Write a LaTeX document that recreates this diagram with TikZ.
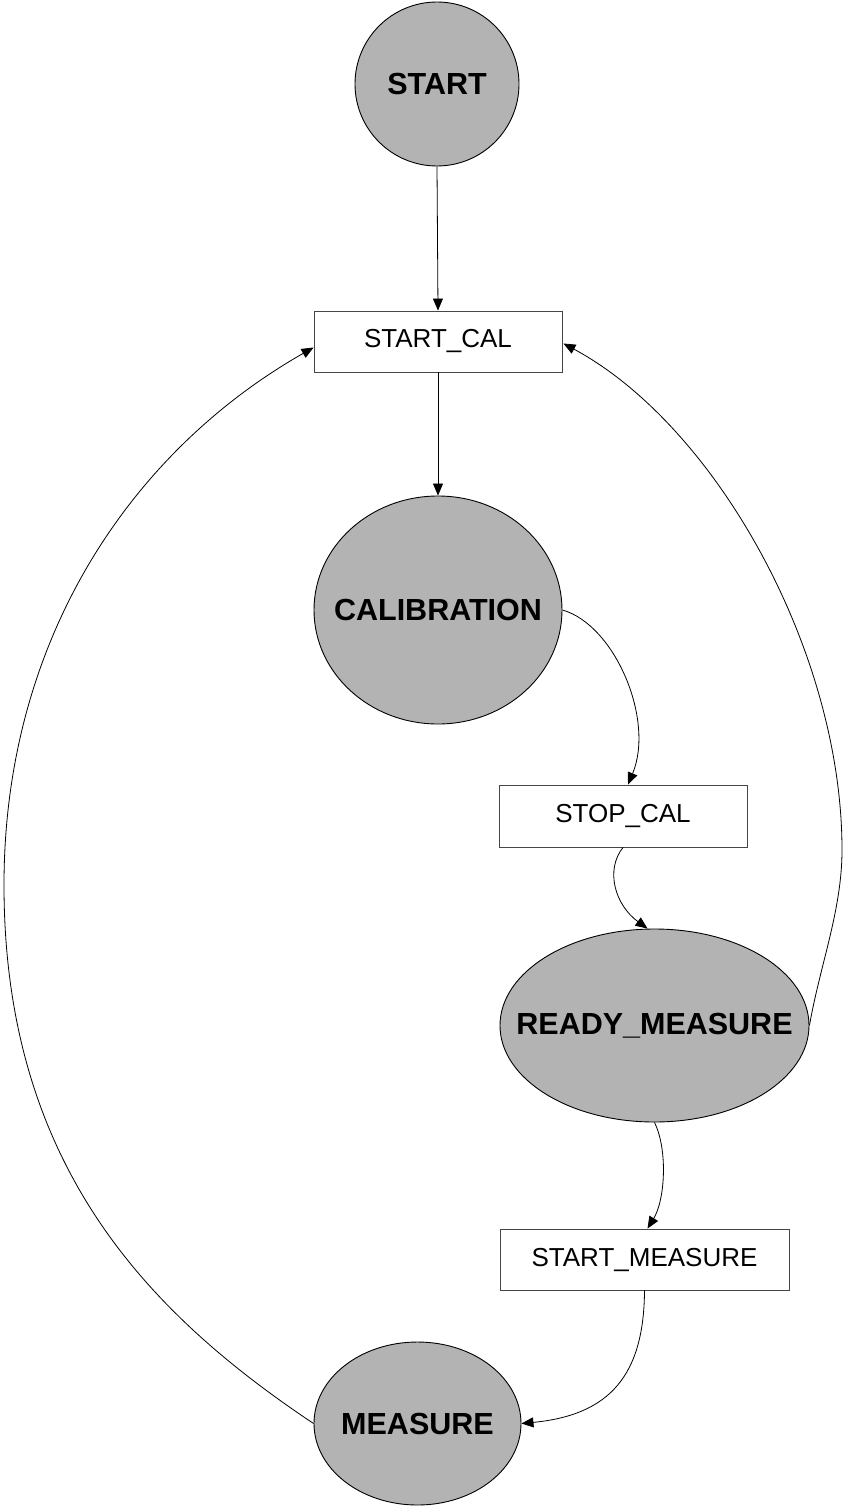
\documentclass[tikz,border=0pt]{standalone}
\usepackage{fontspec}
\setmainfont{Liberation Sans}
\usetikzlibrary{shapes.geometric,arrows.meta,calc}
\definecolor{statefill}{RGB}{179,179,179}
\definecolor{boxline}{RGB}{70,70,70}
\begin{document}
\begin{tikzpicture}[x=1pt,y=-1pt,
  state/.style={ellipse,draw=black,line width=0.9pt,fill=statefill,inner sep=0pt,
    font=\fontsize{30.5}{36}\selectfont\bfseries},
  event/.style={rectangle,draw=boxline,line width=0.9pt,fill=white,inner sep=0pt,
    minimum height=61pt,font=\fontsize{26}{31}\selectfont},
  trans/.style={line width=0.8pt,-{Triangle[length=12pt,width=10pt]}}]
\useasboundingbox (0,0) rectangle (843,1506);

% states (grey ellipses) and events (white boxes)
\node[state,minimum width=164pt,minimum height=164pt] (start) at (437,84) {\makebox[0pt]{START}};
\node[event,minimum width=248pt] (startcal) at (438,341.5) {START\_CAL};
\node[state,minimum width=248pt,minimum height=228pt] (calib) at (438,610) {\makebox[0pt]{CALIBRATION}};
\node[event,minimum width=248pt,minimum height=62pt] (stopcal) at (623,816) {STOP\_CAL};
\node[state,minimum width=309pt,minimum height=193pt] (rm) at (654.5,1025.5) {\makebox[0pt]{READY\_MEASURE}};
\node[event,minimum width=289pt] (startm) at (644.5,1259.5) {START\_MEASURE};
\node[state,minimum width=207pt,minimum height=163pt] (meas) at (417.5,1423.5) {\makebox[0pt]{MEASURE}};

% transitions
\draw[trans] (start.south) -- (startcal.north);
\draw[trans] (startcal.south) -- (calib.north);
\draw[trans] (calib.east) .. controls (615,625) and (655,720) .. ($(stopcal.north)+(5,0)$);
\draw[trans] (stopcal.south) .. controls (605,870) and (615,905) .. ($(rm.north)+(-7,0)$);
\draw[trans] (rm.south) .. controls (668,1150) and (665,1200) .. ($(startm.north)+(3,0)$);
\draw[trans] (startm.south) .. controls (644,1375) and (610,1415) .. (meas.east);
\draw[trans] (rm.east) .. controls (820,965) and (842,910) .. (842,850)
  .. controls (842,650) and (715,425) .. ($(startcal.east)+(1,2)$);
\draw[trans] (meas.west) .. controls (148,1313) and (4,1165) .. (4,885)
  .. controls (4,635) and (135,449) .. ($(startcal.west)+(0,6)$);
\end{tikzpicture}
\end{document}
